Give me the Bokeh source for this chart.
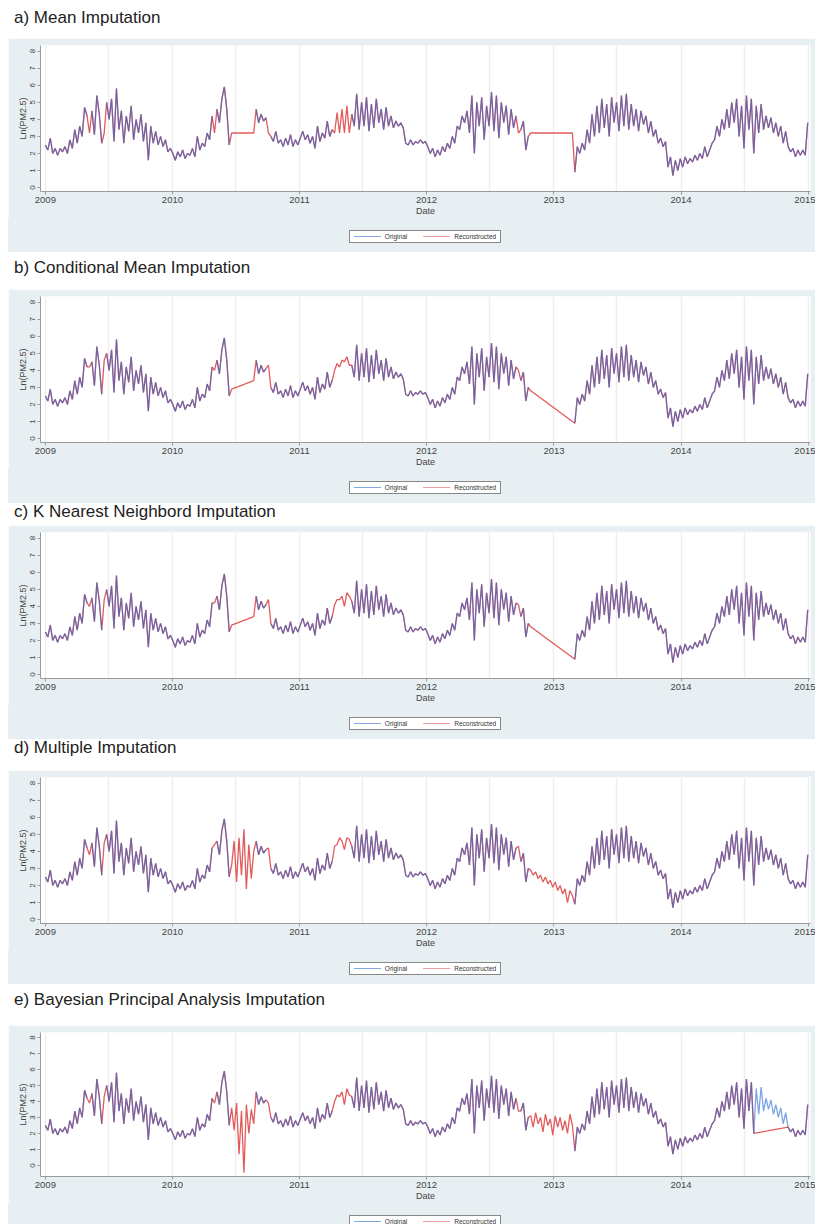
import numpy as np
import pandas as pd
from bokeh.plotting import figure
from bokeh.layouts import column
from bokeh.models import FixedTicker, DatetimeTickFormatter, Div, Range1d
from bokeh.embed import file_html
from bokeh.resources import INLINE

N = None  # missing observation

years = [2009, 2010, 2011, 2012, 2013, 2014]
tick_years = [2009, 2010, 2011, 2012, 2013, 2014, 2015]
y_ticks = [0, 1, 2, 3, 4, 5, 6, 7, 8]

# weekly Ln(PM2.5), 52 readings per year
orig_2009 = [2.5, 2.2, 2.9, 2.0, 2.3, 1.9, 2.3, 2.1, 2.4, 2.0, 2.8, 2.3, 3.4,
             2.6, 3.6, 3.0, 4.7, 4.2, N, 4.5, 3.1, 5.4, 4.3, 2.6, N, 5.0,
             4.0, 5.2, 2.7, 5.8, 3.4, 4.5, 2.6, 4.2, 3.3, 4.8, 2.8, 4.0, 3.2,
             4.3, 2.7, 3.8, 1.6, 3.6, 2.6, 3.3, 2.5, 3.0, 2.4, 2.8, 2.1, 2.3]
orig_2010 = [2.0, 1.6, 2.1, 1.8, 2.2, 1.7, 2.0, 1.9, 2.3, 1.8, 3.0, 2.2, 2.6,
             2.4, 3.2, 2.8, 4.2, N, 4.6, 3.8, 5.2, 5.9, 4.6, 2.5, N, N,
             N, N, N, N, N, N, N, N, 4.6, 3.8, 4.3, 3.9, 4.1,
             N, 3.0, 2.7, 3.3, 2.6, 2.8, 2.4, 2.9, 2.5, 3.1, 2.4, 2.8, 2.5]
orig_2011 = [2.9, 3.3, 2.8, 3.1, 2.6, 3.0, 2.3, 3.6, 2.7, 3.2, 2.9, 3.9, 3.0,
             3.4, N, 4.4, N, 4.6, N, 4.8, N, 4.3, 3.6, 5.5, 3.4, 5.0,
             3.6, 5.3, 3.3, 4.9, 3.5, 5.2, 3.8, 4.6, 3.4, 4.7, 3.6, 4.2, 3.5,
             3.9, 3.6, 3.8, 3.5, 2.6, 2.5, 2.8, 2.5, 2.7, 2.6, 2.8, 2.6, 2.7]
orig_2012 = [2.4, 2.0, 2.3, 1.8, 2.2, 1.9, 2.4, 2.1, 2.6, 2.3, 3.0, 2.6, 3.6,
             3.4, 4.2, 3.8, 4.5, 3.2, 5.4, 2.0, 5.0, 3.6, 5.3, 2.8, 4.8, 3.6,
             5.6, 3.3, 5.4, 2.9, 5.0, 3.8, 4.8, 3.1, 4.6, 3.5, 4.2, N, 3.4,
             3.9, 2.2, 3.0, N, N, N, N, N, N, N, N, N, N]
orig_2013 = [N, N, N, N, N, N, N, N, 0.9, 2.4, 2.0, 2.6, 2.2,
             3.4, 2.6, 4.3, 3.0, 4.8, 3.2, 5.2, 3.5, 4.9, 3.0, 5.3, 3.8, 5.0,
             3.3, 5.4, 3.6, 5.5, 3.4, 4.9, 3.6, 4.6, 3.3, 4.5, 3.7, 4.2, 3.2,
             3.9, 3.0, 3.4, 2.6, 2.9, 2.4, 2.7, 1.2, 1.8, 0.7, 1.6, 1.0, 1.7]
orig_2014 = [1.2, 1.8, 1.4, 1.7, 1.5, 1.9, 1.6, 2.0, 1.7, 2.4, 1.8, 2.2, 2.6,
             2.8, 3.6, 3.0, 4.0, 3.4, 4.6, 3.5, 5.0, 3.8, 5.2, 3.0, 4.8, 2.3,
             5.4, 3.4, 5.2, 2.0, 4.8, 3.2, 4.9, 3.4, 4.2, 3.5, 4.1, 3.2, 3.8,
             3.0, 3.6, 2.6, 3.3, 2.4, 2.1, 2.3, 1.8, 2.2, 1.9, 2.2, 1.9, 3.8]
orig_by_year = [orig_2009, orig_2010, orig_2011, orig_2012, orig_2013, orig_2014]

# imputed values, in the order of the missing weeks of each year
# (None = no value: the reconstructed line runs straight across)
mean_value = 3.2
fill_cond_mean = {2009: [4.2, 4.6],
                  2010: [4.0, 2.9, N, N, N, N, N, N, N, N, 3.4, 4.3],
                  2011: [4.0, 4.2, 4.5, 4.3],
                  2012: [4.0, 2.8, N, N, N, N, N, N, N, N, N],
                  2013: [N, N, N, N, N, N, N, N]}
fill_knn = {2009: [4.0, 4.4],
            2010: [4.2, 2.9, N, N, N, N, N, N, N, N, 3.4, 4.4],
            2011: [4.1, 4.4, 4.0, 4.6],
            2012: [4.1, 2.8, N, N, N, N, N, N, N, N, N],
            2013: [N, N, N, N, N, N, N, N]}
fill_multiple = {2009: [3.8, 4.5],
                 2010: [4.4, 3.2, 4.6, 2.2, 4.8, 2.6, 5.3, 1.8, 4.4, 2.4, 4.0, 4.2],
                 2011: [4.3, 4.8, 4.1, 4.7],
                 2012: [4.3, 2.9, 2.6, 2.8, 2.4, 2.6, 2.2, 2.5, 2.1, 2.3, 1.9],
                 2013: [2.2, 1.7, 2.0, 1.5, 1.8, 1.0, 1.7, 1.4]}
fill_bpca = {2009: [3.9, 4.3],
             2010: [3.9, 3.6, 2.2, 3.9, 0.7, 3.4, -0.45, 3.8, 2.0, 3.5, 2.6, 3.9],
             2011: [4.0, 4.3, 3.8, 4.4],
             2012: [3.4, 3.1, 2.4, 3.3, 2.6, 3.0, 2.1, 3.2, 2.5, 2.9, 1.9],
             2013: [3.1, 2.4, 3.0, 2.2, 2.8, 2.0, 3.2, 2.5]}
fill_mean = {yr: [mean_value] * sum(v is None for v in vals)
             for yr, vals in zip(years, orig_by_year)}
# weeks of 2014 where the Bayesian PCA series has no value
bpca_blank_2014 = [31, 32, 33, 34, 35, 36, 37, 38, 39, 40, 41, 42, 43]

titles = ["a) Mean Imputation", "b) Conditional Mean Imputation",
          "c) K Nearest Neighbord Imputation", "d) Multiple Imputation",
          "e) Bayesian Principal Analysis Imputation"]
legend_labels = ["Original", "Reconstructed"]

dates = pd.date_range("2009-01-01", "2014-12-31", periods=52 * len(years))
original = np.array([np.nan if v is None else v for vals in orig_by_year for v in vals])

RED = "#e04848"
BLUE = "#2a68d2"
KEY_BLUE = "#7fa9e4"
KEY_RED = "#ef9c9c"
BOX = "#e8eff3"
FONT = "Liberation Sans"
W = 807
LW = 1.3


def reconstructed(fills, blank=()):
    xs, ys = [], []
    for yi, (yr, vals) in enumerate(zip(years, orig_by_year)):
        it = iter(fills.get(yr, []))
        for w, v in enumerate(vals):
            if v is None:
                v = next(it)
            if v is None or (yr == 2014 and (w + 1) in blank):
                continue
            xs.append(dates[yi * 52 + w])
            ys.append(v)
    return xs, ys


def ms(d):
    return pd.Timestamp(d).value // 10**6


def make_fig(fills, height, y_lo, y_hi, blank=()):
    p = figure(width=W, height=height, x_axis_type="datetime",
               x_range=Range1d(pd.Timestamp("2008-12-18"), pd.Timestamp("2015-01-08")),
               y_range=Range1d(y_lo, y_hi),
               output_backend="svg", toolbar_location=None,
               min_border_left=32, min_border_right=5, min_border_top=7,
               min_border_bottom=27, margin=0,
               background_fill_color="white", border_fill_color=BOX,
               outline_line_color=None)
    rx, ry = reconstructed(fills, blank)
    p.line(rx, ry, color=RED, line_width=LW, line_alpha=0.9)
    p.line(dates, original, color=BLUE, line_width=LW, line_alpha=0.6)

    p.xaxis.ticker = FixedTicker(ticks=[ms(f"{y}-01-01") for y in tick_years])
    fmt = "%Y"
    p.xaxis.formatter = DatetimeTickFormatter(years=fmt, months=fmt, days=fmt,
                                              hours=fmt, minutes=fmt)
    p.xgrid.ticker = FixedTicker(ticks=[ms(f"{y}-{m}-01") for y in tick_years
                                        for m in ("01", "07")])
    p.xgrid.grid_line_color = "#eeeeee"
    p.xgrid.grid_line_width = 1.5
    p.ygrid.grid_line_color = None
    p.xaxis.axis_label = "Date"
    p.yaxis.axis_label = "Ln(PM2.5)"
    p.yaxis.ticker = FixedTicker(ticks=y_ticks)
    p.yaxis.major_label_orientation = "vertical"
    for ax in (p.xaxis[0], p.yaxis[0]):
        ax.axis_line_color = "#9a9a9a"
        ax.major_tick_line_color = "#9a9a9a"
        ax.minor_tick_line_color = None
        ax.major_tick_in = 0
        ax.major_tick_out = 3
        ax.major_label_text_font = FONT
        ax.major_label_text_color = "#444444"
        ax.axis_label_text_font = FONT
        ax.axis_label_text_font_style = "normal"
        ax.axis_label_text_color = "#444444"
        ax.axis_label_text_font_size = "9px"
        ax.axis_label_standoff = 0
        ax.major_label_standoff = 2
    p.xaxis.major_label_text_font_size = "9.5px"
    p.yaxis.major_label_text_font_size = "8px"
    return p


def legend_strip(height, top):
    def key(color, label, left):
        return (f'<span style="display:inline-block;width:27px;height:0;'
                f'border-top:1.2px solid {color};vertical-align:middle;'
                f'margin:0 4px 0 {left}px"></span>'
                f'<span style="vertical-align:middle">{label}</span>')
    box = ('<div style="display:inline-flex;align-items:center;height:13px;'
           'vertical-align:top;box-sizing:border-box;border:1px solid #888;'
           'background:#fff;padding:0 4px 0 0;'
           f'font-family:\'{FONT}\',Arial,sans-serif;'
           'font-size:6.5px;line-height:8px;color:#333;white-space:nowrap">'
           + key(KEY_BLUE, legend_labels[0], 4) + key(KEY_RED, legend_labels[1], 16)
           + '</div>')
    html = (f'<div style="box-sizing:border-box;width:{W}px;height:{height}px;'
            f'background:{BOX};padding:{top}px 5px 0 32px;text-align:center;'
            'font-size:0;line-height:0">' + box + '</div>')
    return Div(text=html, width=W, height=height, margin=0,
               styles={"background-color": BOX})


def title_div(text, height, pad):
    html = (f'<div style="padding:{pad}px 0 0 6px;font-family:\'{FONT}\',Arial,'
            f'sans-serif;font-size:17px;line-height:20px;color:#222;'
            f'white-space:nowrap">{text}</div>')
    return Div(text=html, width=W, height=height, margin=0)


fills = [fill_mean, fill_cond_mean, fill_knn, fill_multiple, fill_bpca]
div_h = [30, 47, 32, 41, 51]
div_pad = [0, 16, 9, 9, 16]

children = []
for i in range(5):
    children.append(title_div(titles[i], div_h[i], div_pad[i]))
    if i < 4:
        children.append(make_fig(fills[i], 180, -0.23, 8.33))
        children.append(legend_strip(24, 2))
    else:
        children.append(make_fig(fills[i], 178, -0.69, 8.31, blank=bpca_blank_2014))
        children.append(legend_strip(13, 0))

layout = column(children, spacing=0, margin=(8, 0, 0, 8))
open("out.html", "w").write(file_html(layout, INLINE))
